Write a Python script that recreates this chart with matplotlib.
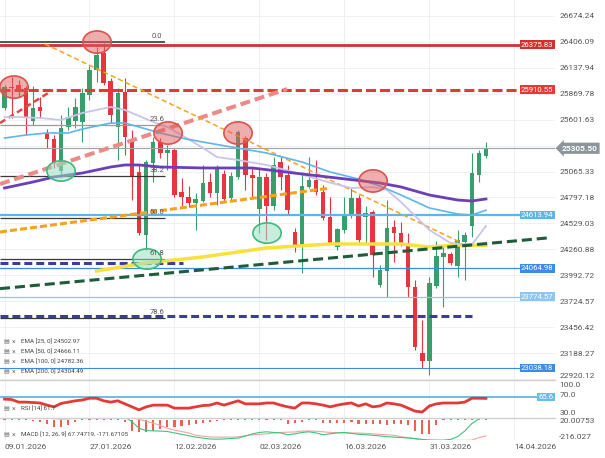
import numpy as np
import matplotlib.pyplot as plt
from matplotlib.patches import Ellipse

plt.rcParams['font.family'] = ['Roboto', 'DejaVu Sans']

# Kerzen (Index 0 = 09.01.2026)
opens = [25721, 25938, 25959, 25928, 25587, 25732, 25463, 25401, 25071, 25525,
         25587, 25577, 25855, 26114, 26289, 26000, 25525, 25886, 25370, 25060,
         24410, 25153, 25370, 25257, 25288, 24854, 24802, 24740, 24761, 24957,
         24844, 25040, 24792, 25009, 25411, 25029, 24678, 25009, 24709, 25164,
         25029, 24441, 24296, 24906, 24978, 24854, 24596, 24286, 24462, 24616,
         24792, 24596, 24647, 23894, 24038, 24493, 24431, 24327, 23873, 23192,
         23109, 23883, 24183, 24214, 24090, 24338, 24503, 25029, 25226]
closes = [25938, 25928, 25917, 25618, 25721, 25690, 25401, 25153, 25515, 25628,
          25732, 25876, 26114, 26268, 25979, 25649, 25876, 25422, 25009, 24431,
          25164, 25370, 25257, 25288, 24823, 24802, 24740, 24782, 24947, 24844,
          25091, 24782, 25019, 25473, 25029, 24998, 25009, 24709, 25133, 25009,
          24668, 24296, 24916, 24978, 24854, 24585, 24327, 24472, 24627, 24792,
          24358, 24637, 24203, 24049, 24482, 24431, 24327, 23873, 23254, 23109,
          23914, 24193, 24224, 24121, 24358, 24410, 25050, 25257, 25305.5]
highs = [25959, 26041, 26010, 25948, 25948, 25835, 25504, 25442, 25649, 25732,
         25824, 25928, 26155, 26351, 26392, 26031, 25928, 26031, 25494, 25133,
         25184, 25422, 25411, 25339, 25308, 24998, 24916, 24844, 25133, 25050,
         25133, 25081, 25060, 25494, 25432, 25102, 25102, 25050, 25215, 25215,
         25133, 24482, 25060, 25215, 25184, 24926, 24802, 24482, 24802, 24895,
         24823, 24709, 24668, 24100, 24771, 24565, 24544, 24431, 23945, 23532,
         23976, 24348, 24307, 24234, 24462, 24441, 25257, 25288, 25370]
lows = [25701, 25618, 25835, 25442, 25546, 25618, 25308, 25102, 25009, 25494,
        25515, 25370, 25804, 25990, 25959, 25566, 25184, 25236, 24771, 24410,
        24255, 24957, 25205, 25081, 24802, 24689, 24699, 24462, 24751, 24802,
        24720, 24751, 24771, 24988, 24875, 24802, 24431, 24358, 24668, 24875,
        24616, 24234, 24018, 24895, 24823, 24565, 24307, 24255, 24431, 24585,
        24327, 24327, 23976, 23873, 23770, 24131, 24296, 23770, 23223, 23037,
        22964, 23863, 23667, 24100, 23976, 23945, 24389, 24957, 25205]

tick_pos = [0, 12, 24, 36, 48, 60, 72]
tick_labels = ['09.01.2026', '27.01.2026', '12.02.2026', '02.03.2026',
               '16.03.2026', '31.03.2026', '14.04.2026']
price_ticks = [26674.24, 26406.09, 26137.94, 25869.78, 25601.63, 25333.48, 25065.33,
               24797.18, 24529.03, 24260.88, 23992.72, 23724.57, 23456.42, 23188.27, 22920.12]

ema25_x = [0, 2, 5, 8, 11, 15, 17, 19, 21, 23, 25, 28, 30, 33, 37, 41, 46, 49, 52, 54, 56, 58, 60, 63, 66, 68]
ema25_y = [25628, 25628, 25618, 25597, 25670, 25732, 25701, 25639, 25577, 25525, 25442, 25310, 25215,
           25184, 25133, 25055, 24950, 24895, 24905, 24875, 24750, 24606, 24462, 24327, 24310, 24503]
ema50_x = [0, 3, 6, 9, 11, 15, 17, 19, 22, 25, 28, 32, 37, 42, 46, 50, 53, 56, 60, 64, 66, 68]
ema50_y = [25411, 25442, 25463, 25463, 25504, 25566, 25566, 25525, 25463, 25411, 25370, 25319, 25257,
           25164, 25060, 24988, 24916, 24823, 24689, 24627, 24616, 24666]
ema100_x = [0, 4, 7, 11, 15, 17, 19, 22, 28, 35, 42, 47, 53, 56, 60, 64, 66, 68]
ema100_y = [24895, 24957, 25009, 25050, 25112, 25133, 25133, 25112, 25102, 25102, 25040, 24998, 24947,
            24906, 24823, 24771, 24761, 24782]
ema200_x = [13, 20, 28, 37, 46, 56, 60, 64, 68]
ema200_y = [24038, 24121, 24183, 24276, 24317, 24317, 24286, 24307, 24304]

# Horizontale Marken
level_vals = [26375.83, 25910.55, 24613.94, 24064.98, 23774.57, 23038.18]
level_cols = ['#d32f2f', '#e53935', '#5db5ea', '#3c8ce7', '#8ec5f2', '#3c8ce7']
fib_vals = [26400, 25546, 25017, 24590, 24163, 23555]
fib_names = ['0.0', '23.6', '38.2', '50.0', '61.8', '78.6']
last_price = 25305.5

# Trendlinien (Index, Kurs)
tl_orange_thin = ([5.72, 64.3], [26382, 24338])
tl_orange_thick = ([-0.64, 45.97], [24441, 24895])
tl_pink = ([-0.64, 39.9], [24936, 25917])
tl_red = ([-0.64, 6.85], [25566, 25907])
tl_green = ([-0.64, 76.6], [23856, 24379])
navy_vals = [24121, 23570]
navy_end = [25.2, 66.0]

# Markierungen
red_mark_x = [1.34, 13.07, 23.1, 32.98, 52.05]
red_mark_y = [25937, 26402, 25463, 25463, 24968]
green_mark_x = [7.98, 20.13, 37.08]
green_mark_y = [25071, 24162, 24430]

# RSI / MACD
rsi = [60, 59, 53, 53, 52, 51, 46, 42, 50, 53,
       56, 58, 62, 62, 56, 53, 56, 49, 42, 35,
       42, 46, 46, 46, 39, 39, 39, 42, 45, 46,
       51, 46, 51, 56, 49, 49, 49, 51, 51, 46,
       42, 39, 51, 51, 49, 46, 42, 46, 49, 51,
       44, 49, 42, 44, 51, 49, 46, 39, 32, 30,
       44, 49, 51, 51, 51, 53, 62, 62, 61.7]
macd = [60, 50, 40, 30, 25, 22, 21, 15, 10, 12,
        18, 25, 40, 60, 62, 55, 50, 30, -20, -90,
        -115, -118, -120, -125, -140, -155, -170, -185, -195, -205,
        -207, -205, -200, -195, -175, -150, -135, -128, -135, -140,
        -160, -150, -135, -128, -140, -160, -150, -140, -135, -145,
        -155, -160, -165, -172, -180, -185, -190, -195, -200, -210,
        -216, -218, -218, -210, -180, -120, -40, 10, 67.7]
signal = [40, 40, 40, 40, 40, 40, 40, 40, 40, 40,
          40, 40, 40, 40, 40, 40, 38, 35, 25, 5,
          -15, -35, -60, -90, -110, -125, -140, -165, -175, -183,
          -185, -185, -185, -182, -170, -160, -155, -150, -140, -135,
          -132, -130, -120, -119, -122, -128, -135, -138, -140, -141,
          -142, -145, -150, -155, -160, -165, -180, -190, -205, -218,
          -220, -220, -220, -220, -220, -220, -218, -190, -171.67]
hist = [8, 8, 8, 8, -10, -20, -45, -75, -75, -55,
        -25, 8, 8, 8, 8, 8, 8, -20, -120, -135,
        -130, -120, -95, -75, -75, -70, -55, -45, -35, -25,
        -15, 8, 8, 8, 8, 8, 8, 8, 8, 8,
        -40, -30, -25, 8, 8, -35, -35, -35, -30, -20,
        -40, -40, -40, -40, -50, -40, -45, -50, -120, -150,
        -150, -60, 8, 8, 8, 8, 8, 8, 8]

GREEN = '#3a9e6c'
RED = '#e8343f'

fig = plt.figure(figsize=(6.05, 4.58), dpi=100)
W = 555 / 605
ax = fig.add_axes([0, 1 - 380 / 458, W, 380 / 458])
ax_rsi = fig.add_axes([0, 1 - 418 / 458, W, 38 / 458])
ax_macd = fig.add_axes([0, 1 - 440 / 458, W, 22 / 458])

for a in (ax, ax_rsi, ax_macd):
    a.set_xlim(-0.64, 77.75)
    for s in a.spines.values():
        s.set_visible(False)
    a.set_xticks(tick_pos)
    a.tick_params(axis='x', length=0, labelbottom=False)
    a.grid(axis='x', color='#eef0f3', lw=0.7)
    a.set_axisbelow(True)
    a.yaxis.tick_right()
    a.tick_params(axis='y', length=0, pad=3, labelsize=6, labelcolor='#555555')

for a in (ax_rsi, ax_macd):
    a.spines['top'].set_visible(True)
    a.spines['top'].set_color('#d0d0d0')
    a.spines['top'].set_linewidth(1)

# Hauptchart
ax.set_ylim(22912.7, 26836.35)
ax.set_yticks(price_ticks)
# the tick label under the last-price tag is hidden in the original
ax.set_yticklabels(['' if abs(v - last_price) < 100 else f'{v:.2f}' for v in price_ticks])
ax.get_yticklabels()[-1].set_va('bottom')
ax.grid(axis='y', color='#eef0f3', lw=0.7)

n = len(closes)
for i in range(n):
    o, c = opens[i], closes[i]
    col = GREEN if c >= o else RED
    ax.vlines(i, lows[i], highs[i], color=col, lw=0.8, zorder=2)
    ax.bar(i, max(abs(c - o), 8), bottom=min(o, c), width=0.64, color=col, zorder=2.1)

# Fibonacci
for v, name in zip(fib_vals, fib_names):
    col = '#9a9a9a' if name == '23.6' else '#3a3a3a'
    ax.hlines(v, -0.64, 22.7, color=col, lw=1.2 if name == '0.0' else 0.9, zorder=2.5)
    ax.text(21.5, v + 30, name, fontsize=5.5, color='#555555', ha='center', va='bottom', zorder=6)

ax.axhline(last_price, color='#9ea3a8', lw=0.8, zorder=2.5)

# Linien
ax.axhline(level_vals[0], color=level_cols[0], lw=2, zorder=3)
ax.axhline(level_vals[1], color=level_cols[1], lw=2.2, dashes=(3.3, 1.3), zorder=3)
ax.axhline(level_vals[2], color=level_cols[2], lw=1.6, zorder=3)
ax.axhline(level_vals[3], color=level_cols[3], lw=0.9, zorder=3)
ax.axhline(level_vals[4], color=level_cols[4], lw=0.9, zorder=3)
ax.axhline(level_vals[5], color=level_cols[5], lw=0.8, zorder=3)

ax.plot(*tl_pink, color='#ec8a86', lw=2.9, dashes=(2.5, 1.2), zorder=3)
ax.plot(*tl_red, color='#e04848', lw=1.8, dashes=(2.5, 1.5), zorder=3)
ax.plot(*tl_orange_thin, color='#f6a21e', lw=1.1, dashes=(3.3, 2), zorder=3)
ax.plot(*tl_orange_thick, color='#f6a21e', lw=2.2, dashes=(2.3, 1), zorder=3)
ax.plot(*tl_green, color='#1e5c3a', lw=2.2, dashes=(3.3, 1.6), zorder=3.2)
for v, e in zip(navy_vals, navy_end):
    ax.hlines(v, -0.64, e, color='#3a3d9c', lw=2.2, linestyles=(0, (2.6, 1.3)), zorder=3)

ax.plot(ema25_x, ema25_y, color='#c9c5ea', lw=1.3, zorder=3.1)
ax.plot(ema50_x, ema50_y, color='#5fb6e8', lw=1.2, zorder=3.1)
ax.plot(ema100_x, ema100_y, color='#6a3fb8', lw=2, zorder=3.1)
ax.plot(ema200_x, ema200_y, color='#f7e23b', lw=2.5, zorder=3.0)

for x, y in zip(red_mark_x, red_mark_y):
    ax.add_patch(Ellipse((x, y), 4.0, 230, fc=(0.88, 0.36, 0.36, 0.5), ec='#d9534f', lw=1.2, zorder=5))
for x, y in zip(green_mark_x, green_mark_y):
    ax.add_patch(Ellipse((x, y), 4.0, 210, fc=(0.6, 0.88, 0.76, 0.55), ec='#3dbb7e', lw=1.2, zorder=5))


def tag(a, y, txt, fc, x=0.997, ha='right', size=5.6):
    a.text(x, y, txt, transform=a.get_yaxis_transform(), ha=ha, va='center', fontsize=size,
           color='white', zorder=9, clip_on=False,
           bbox=dict(boxstyle='square,pad=0.15', fc=fc, ec='none'))


for v, c in zip(level_vals, level_cols):
    tag(ax, v, f'{v:.2f}', c)

ax.text(1.012, last_price, f'{last_price:.2f}', transform=ax.get_yaxis_transform(), ha='left',
        va='center', fontsize=6, fontweight='bold', color='white', zorder=10, clip_on=False,
        bbox=dict(boxstyle='larrow,pad=0.25', fc='#8c959b', ec='none'))

# RSI
ax_rsi.set_ylim(16.1, 104.4)
ax_rsi.set_yticks([100, 70, 30])
ax_rsi.set_yticklabels(['100.0', '70.0', '30.0'])
ax_rsi.get_yticklabels()[0].set_va('top')
ax_rsi.axhline(65.6, color='#6bbde8', lw=1.4)
ax_rsi.plot(range(n), rsi, color='#e53935', lw=2)
tag(ax_rsi, 65.6, '65.6', '#6bbde8')

# MACD
ax_macd.set_ylim(-216.027, 20.00753)
ax_macd.set_yticks([20.00753, -216.027])
ax_macd.set_yticklabels(['20.00753', '-216.027'])
ax_macd.get_yticklabels()[0].set_va('top')
ax_macd.get_yticklabels()[1].set_va('bottom')
hcol = ['#2eb872' if h > 0 else '#f0604d' for h in hist]
ax_macd.bar(range(n), hist, width=0.3, color=hcol)
ax_macd.plot(range(n), signal, color='#f4a3a3', lw=0.8)
ax_macd.plot(range(n), macd, color='#3cc47c', lw=0.8)
ax_macd.tick_params(axis='x', labelbottom=True, labelsize=6, labelcolor='#555555', pad=3)
ax_macd.set_xticklabels(tick_labels)
for lbl in ax_macd.get_xticklabels():
    lbl.set_ha('left')

# Legende
legend_rows = [('EMA [25, 0] 24502.97', 342), ('EMA [50, 0] 24666.11', 352),
               ('EMA [100, 0] 24782.36', 362), ('EMA [200, 0] 24304.49', 372),
               ('RSI [14] 61.7', 409), ('MACD [12, 26, 9] 67.74719, -171.67105', 435)]
for txt, yp in legend_rows:
    fig.text(3 / 605, 1 - yp / 458, '\u25a4', fontsize=4.5, color='#777777', va='center')
    fig.text(12 / 605, 1 - yp / 458, '\u00d7', fontsize=5, color='#777777', va='center')
    fig.text(21 / 605, 1 - yp / 458, txt, fontsize=4.5, color='#444444', va='center')

plt.savefig('out.png', dpi=100)
